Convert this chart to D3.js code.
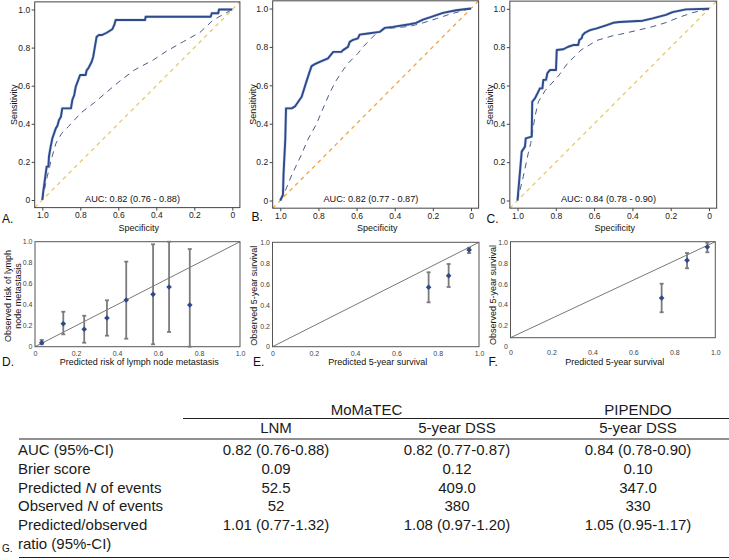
<!DOCTYPE html>
<html><head><meta charset="utf-8">
<script src="https://cdn.jsdelivr.net/npm/d3@7"></script>
<style>body{margin:0;background:#fff} svg{display:block;font-family:"Liberation Sans",Arial,sans-serif}</style>
</head><body><svg id="c" width="729" height="560"></svg>
<script>
// ---------------- DATA ----------------
const rocTicks = [0, 0.2, 0.4, 0.6, 0.8, 1];
const calTicks = [0, 0.2, 0.4, 0.6, 0.8, 1];
const aucLabels = ["AUC: 0.82 (0.76 - 0.88)", "AUC: 0.82 (0.77 - 0.87)", "AUC: 0.84 (0.78 - 0.90)"];
const rocLetters = ["A.", "B.", "C."];
const calLetters = ["D.", "E.", "F."];

// ROC curves: [specificity, sensitivity]
const rocA_model = [[1,0],[0.995,0.044],[0.977,0.175],[0.968,0.175],[0.965,0.227],[0.956,0.28],[0.947,0.324],[0.938,0.35],[0.929,0.376],[0.921,0.388],[0.912,0.42],[0.902,0.437],[0.895,0.481],[0.849,0.481],[0.842,0.525],[0.832,0.551],[0.824,0.595],[0.814,0.621],[0.801,0.656],[0.772,0.656],[0.766,0.682],[0.758,0.691],[0.74,0.726],[0.732,0.752],[0.723,0.805],[0.714,0.857],[0.702,0.866],[0.687,0.866],[0.661,0.878],[0.632,0.896],[0.621,0.919],[0.614,0.945],[0.459,0.945],[0.456,0.962],[0.114,0.962],[0.108,0.98],[0.074,0.98],[0.07,1],[0,1]];
const rocA_ref = [[1,0],[0.974,0.122],[0.951,0.219],[0.928,0.298],[0.898,0.35],[0.863,0.385],[0.796,0.458],[0.726,0.511],[0.665,0.563],[0.596,0.621],[0.516,0.682],[0.416,0.735],[0.345,0.782],[0.258,0.831],[0.17,0.88],[0.1,0.945],[0,1]];
const rocB_model = [[1,0],[0.986,0.03],[0.983,0.14],[0.974,0.315],[0.97,0.48],[0.94,0.48],[0.923,0.49],[0.888,0.54],[0.866,0.61],[0.849,0.662],[0.836,0.70],[0.819,0.71],[0.793,0.722],[0.75,0.74],[0.732,0.762],[0.723,0.774],[0.68,0.774],[0.671,0.783],[0.645,0.80],[0.636,0.826],[0.622,0.835],[0.593,0.844],[0.584,0.864],[0.54,0.87],[0.479,0.878],[0.453,0.899],[0.409,0.904],[0.321,0.918],[0.287,0.925],[0.252,0.942],[0.208,0.956],[0.147,0.977],[0.077,0.991],[0,1]];
const rocB_ref = [[1,0],[0.97,0.06],[0.94,0.133],[0.89,0.237],[0.855,0.319],[0.813,0.393],[0.78,0.47],[0.741,0.56],[0.71,0.62],[0.671,0.679],[0.645,0.714],[0.593,0.766],[0.566,0.80],[0.523,0.844],[0.497,0.87],[0.453,0.895],[0.392,0.90],[0.321,0.907],[0.252,0.925],[0.182,0.947],[0.112,0.97],[0,1]];
const rocC_model = [[1,0],[0.978,0.255],[0.961,0.281],[0.957,0.324],[0.926,0.333],[0.923,0.515],[0.909,0.533],[0.9,0.55],[0.883,0.585],[0.87,0.585],[0.865,0.629],[0.851,0.629],[0.844,0.664],[0.83,0.681],[0.799,0.681],[0.795,0.785],[0.761,0.789],[0.735,0.802],[0.709,0.811],[0.683,0.811],[0.677,0.837],[0.665,0.846],[0.66,0.863],[0.648,0.875],[0.621,0.889],[0.586,0.898],[0.534,0.915],[0.5,0.927],[0.468,0.931],[0.346,0.938],[0.294,0.95],[0.26,0.959],[0.225,0.968],[0.19,0.983],[0.12,0.997],[0,1]];
const rocC_ref = [[1,0],[0.97,0.124],[0.944,0.246],[0.931,0.298],[0.909,0.437],[0.891,0.515],[0.856,0.573],[0.787,0.649],[0.738,0.716],[0.703,0.75],[0.668,0.785],[0.625,0.811],[0.586,0.835],[0.5,0.86],[0.468,0.866],[0.381,0.886],[0.294,0.907],[0.225,0.928],[0.155,0.956],[0.085,0.98],[0,1]];

// Calibration plots
const calD_pred = [0.033,0.138,0.240,0.351,0.445,0.576,0.654,0.755];
const calD_obs  = [0.038,0.219,0.166,0.273,0.445,0.499,0.569,0.397];
const calD_lo   = [0.023,0.118,0.038,0.105,0.076,0.023,0.14,0.0];
const calD_hi   = [0.064,0.333,0.295,0.442,0.81,0.975,1.0,0.93];
const calE_pred = [0.756,0.853,0.952];
const calE_obs  = [0.569,0.68,0.926];
const calE_lo   = [0.425,0.572,0.897];
const calE_hi   = [0.713,0.792,0.948];
const calF_pred = [0.738,0.862,0.961];
const calF_obs  = [0.414,0.806,0.945];
const calF_lo   = [0.265,0.723,0.89];
const calF_hi   = [0.5625,0.882,0.99];
const calXTitles = ["Predicted risk of lymph node metastasis", "Predicted 5-year survival", "Predicted 5-year survival"];
const calYTitles = [["Observed risk of lymph", "node metastasis"], ["Observed 5-year survival"], ["Observed 5-year survival"]];

// Table
const tableGroups = ["MoMaTEC", "PIPENDO"];
const tableColumns = ["LNM", "5-year DSS", "5-year DSS"];
const tableRowLabels = ["AUC (95%-CI)", "Brier score", "Predicted N of events", "Observed N of events", "Predicted/observed"];
const tableLNM = ["0.82 (0.76-0.88)", "0.09", "52.5", "52", "1.01 (0.77-1.32)"];
const tableDSS_MoMaTEC = ["0.82 (0.77-0.87)", "0.12", "409.0", "380", "1.08 (0.97-1.20)"];
const tableDSS_PIPENDO = ["0.84 (0.78-0.90)", "0.10", "347.0", "330", "1.05 (0.95-1.17)"];

// ---------------- DRAW ----------------
const svg = d3.select("#c");
const fmt = d => d === 0 ? "0" : d3.format(".1f")(d);

const rocData = [[rocA_model, rocA_ref], [rocB_model, rocB_ref], [rocC_model, rocC_ref]];
const rocLayout = [
  {xr:[42.3,232.3], yr:[200,9.5], diag:"#ebc66a", letter:[2,223], ylabX:16.5},
  {xr:[280.3,471], yr:[200.5,8.5], diag:"#f2a541", letter:[251.5,221], ylabX:255.5},
  {xr:[517.5,709], yr:[200.5,8.8], diag:"#efc75a", letter:[486.5,223], ylabX:492.5}
];

rocLayout.forEach((L, i) => {
  const x = d3.scaleLinear().domain([1,0]).range(L.xr);
  const y = d3.scaleLinear().domain([0,1]).range(L.yr);
  const g = svg.append("g");
  const fx0 = x(1.04), fx1 = x(-0.04), fy0 = y(-0.04), fy1 = y(1.04);
  // diagonal
  const line = d3.line().x(d => x(d[0])).y(d => y(d[1]));
  g.append("path").datum([[1.04,-0.04],[-0.04,1.04]]).attr("d", line)
    .attr("fill","none").attr("stroke",L.diag).attr("stroke-width",1.3).attr("stroke-dasharray","4,4");
  // reference dashed curve
  g.append("path").datum(rocData[i][1]).attr("d", line)
    .attr("fill","none").attr("stroke","#4a5a88").attr("stroke-width",1).attr("stroke-dasharray","6,5");
  // model curve
  g.append("path").datum(rocData[i][0]).attr("d", line)
    .attr("fill","none").attr("stroke","#9fb3d8").attr("stroke-width",3).attr("opacity",0.5);
  g.append("path").datum(rocData[i][0]).attr("d", line)
    .attr("fill","none").attr("stroke","#2c4a8c").attr("stroke-width",1.9).attr("stroke-linejoin","round");
  // frame
  g.append("rect").attr("x",fx0).attr("y",fy1).attr("width",fx1-fx0).attr("height",fy0-fy1)
    .attr("fill","none").attr("stroke","#444").attr("stroke-width",1);
  // axes
  const ay = g.append("g").attr("transform",`translate(${fx0},0)`)
    .call(d3.axisLeft(y).tickValues(rocTicks).tickFormat(fmt).tickSize(3).tickPadding(1.5));
  const ax = g.append("g").attr("transform",`translate(0,${fy0})`)
    .call(d3.axisBottom(x).tickValues(rocTicks).tickFormat(fmt).tickSize(3).tickPadding(1.5));
  [ay, ax].forEach(a => {
    a.select(".domain").remove();
    a.attr("font-size", 8.5).attr("font-family", null);
    a.selectAll("line").attr("stroke","#444");
    a.selectAll("text").attr("fill","#222");
  });
  // AUC
  g.append("text").attr("x", x(0.525)).attr("y", y(0) + 1.5).attr("text-anchor","middle")
    .attr("font-size", 9.2).attr("fill","#111").text(aucLabels[i]);
  // titles
  g.append("text").attr("x",(fx0+fx1)/2 + 1.5).attr("y",230.5).attr("text-anchor","middle")
    .attr("font-size",9).attr("fill","#111").text("Specificity");
  g.append("text").attr("transform",`translate(${L.ylabX},${(fy0+fy1)/2}) rotate(-90)`)
    .attr("text-anchor","middle").attr("font-size",9).attr("fill","#111").text("Sensitivity");
  g.append("text").attr("x",L.letter[0]).attr("y",L.letter[1]).attr("font-size",12).attr("fill","#111").text(rocLetters[i]);
});

// Calibration
const calData = [
  [calD_pred, calD_obs, calD_lo, calD_hi],
  [calE_pred, calE_obs, calE_lo, calE_hi],
  [calF_pred, calF_obs, calF_lo, calF_hi]
];
const calLayout = [
  {xr:[35,240], yr:[346.7,241.7], lyr:[346.7,241.7], letter:[2,366], xt:139.2, yt:[[10.5,20.5],296]},
  {xr:[272.5,479], yr:[346.7,242.3], lyr:[346.7,242.3], letter:[253,366], xt:377.7, yt:[[257.4],295.7]},
  {xr:[510.5,715.3], yr:[337.7,241.7], lyr:[346,242.3], letter:[488.5,366], xt:614.8, yt:[[495.5],295]}
];

calLayout.forEach((L, i) => {
  const x = d3.scaleLinear().domain([0,1]).range(L.xr);
  const y = d3.scaleLinear().domain([0,1]).range(L.yr);
  const yl = d3.scaleLinear().domain([0,1]).range(L.lyr);
  const g = svg.append("g");
  g.append("rect").attr("x",x(0)).attr("y",y(1)).attr("width",x(1)-x(0)).attr("height",y(0)-y(1))
    .attr("fill","none").attr("stroke","#555").attr("stroke-width",1);
  g.append("path").datum([[0,0],[1,1]]).attr("d", d3.line().x(d=>x(d[0])).y(d=>y(d[1])))
    .attr("stroke","#555").attr("stroke-width",0.8).attr("fill","none");
  const ay = g.append("g").attr("transform",`translate(${x(0)},0)`)
    .call(d3.axisLeft(yl).tickValues(calTicks).tickFormat(fmt).tickSize(0).tickPadding(2.5));
  const ax = g.append("g").attr("transform",`translate(0,${yl(0)})`)
    .call(d3.axisBottom(x).tickValues(calTicks).tickFormat(fmt).tickSize(0).tickPadding(4));
  [ay, ax].forEach(a => {
    a.select(".domain").remove();
    a.selectAll("line").remove();
    a.attr("font-size", 7).attr("font-family", null);
    a.selectAll("text").attr("fill","#444");
  });
  const [pred, obs, lo, hi] = calData[i];
  const idx = d3.range(pred.length);
  const eb = g.append("g").attr("stroke","#7b7b7b").attr("stroke-width",1.8);
  eb.selectAll(".v").data(idx).join("line")
    .attr("x1",k=>x(pred[k])).attr("x2",k=>x(pred[k])).attr("y1",k=>y(lo[k])).attr("y2",k=>y(hi[k]));
  eb.selectAll(".t").data(idx).join("line")
    .attr("x1",k=>x(pred[k])-2).attr("x2",k=>x(pred[k])+2).attr("y1",k=>y(hi[k])).attr("y2",k=>y(hi[k]));
  eb.selectAll(".b").data(idx).join("line")
    .attr("x1",k=>x(pred[k])-2).attr("x2",k=>x(pred[k])+2).attr("y1",k=>y(lo[k])).attr("y2",k=>y(lo[k]));
  g.selectAll(".pt").data(idx).join("path")
    .attr("d", d3.symbol().type(d3.symbolSquare).size(16))
    .attr("transform", k => `translate(${x(pred[k])},${y(obs[k])}) rotate(45)`)
    .attr("fill","#2c4a8c");
  g.append("text").attr("x",L.xt).attr("y",365).attr("text-anchor","middle")
    .attr("font-size",9).attr("fill","#111").text(calXTitles[i]);
  calYTitles[i].forEach((t, j) => {
    g.append("text").attr("transform",`translate(${L.yt[0][j]},${L.yt[1]}) rotate(-90)`)
      .attr("text-anchor","middle").attr("font-size",9).attr("fill","#111").text(t);
  });
  g.append("text").attr("x",L.letter[0]).attr("y",L.letter[1]).attr("font-size",12).attr("fill","#111").text(calLetters[i]);
});

// Table
const tg = svg.append("g").attr("font-size",15).attr("fill","#1a1a1a");
const colX = d3.scalePoint().domain(d3.range(tableColumns.length)).range([276, 638]);
const rowY = d3.scaleLinear().domain([0, tableRowLabels.length - 1]).range([455, 530]);
tg.append("text").attr("x",(colX(0)+colX(1))/2).attr("y",415).attr("text-anchor","middle").text(tableGroups[0]);
tg.append("text").attr("x",colX(2)).attr("y",415).attr("text-anchor","middle").text(tableGroups[1]);
tg.append("line").attr("x1",183).attr("x2",729).attr("y1",418.5).attr("y2",418.5).attr("stroke","#222").attr("stroke-width",1.2);
tableColumns.forEach((c, j) => {
  tg.append("text").attr("x",colX(j)).attr("y",433).attr("text-anchor","middle").text(c);
});
tg.append("line").attr("x1",19).attr("x2",729).attr("y1",439).attr("y2",439).attr("stroke","#222").attr("stroke-width",1.2);
tableRowLabels.forEach((lab, r) => {
  const t = tg.append("text").attr("x",18).attr("y",rowY(r));
  const m = lab.match(/^(.*) N (.*)$/);
  if (m) {
    t.append("tspan").text(m[1] + " ");
    t.append("tspan").attr("font-style","italic").text("N");
    t.append("tspan").text(" " + m[2]);
  } else t.text(lab);
});
tg.append("text").attr("x",18).attr("y",rowY(tableRowLabels.length - 1) + 18.5).text("ratio (95%-CI)");
[tableLNM, tableDSS_MoMaTEC, tableDSS_PIPENDO].forEach((col, j) => {
  col.forEach((v, r) => {
    tg.append("text").attr("x",colX(j)).attr("y",rowY(r)).attr("text-anchor","middle").text(v);
  });
});
tg.append("line").attr("x1",19).attr("x2",729).attr("y1",557.5).attr("y2",557.5).attr("stroke","#222").attr("stroke-width",1.2);
svg.append("text").attr("x",2).attr("y",551.5).attr("font-size",10).attr("fill","#111").text("G.");
</script></body></html>
